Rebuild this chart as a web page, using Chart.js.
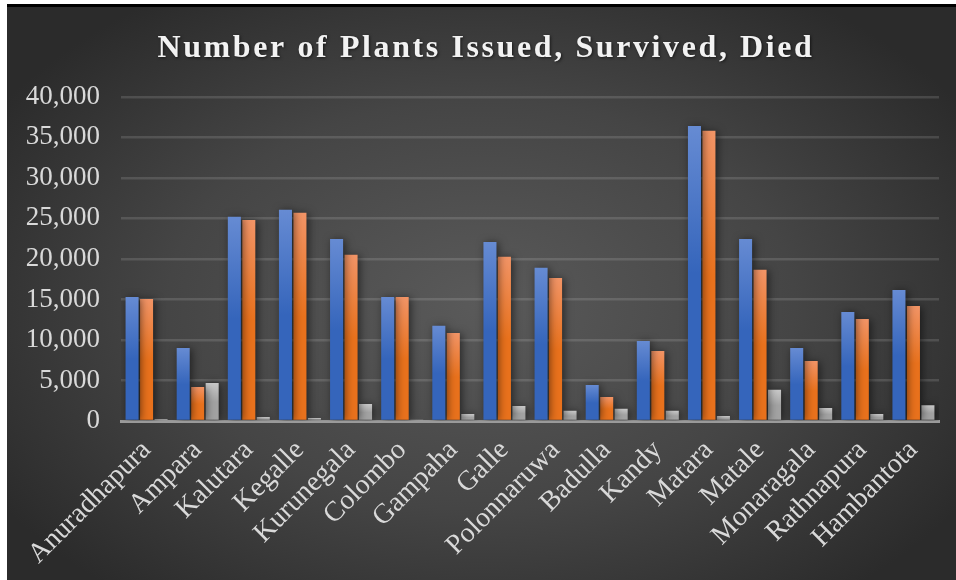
<!DOCTYPE html>
<html>
<head>
<meta charset="utf-8">
<script src="https://cdn.jsdelivr.net/npm/chart.js@4"></script>
<style>
  html, body { margin: 0; padding: 0; background: #fff; }
  #wrap {
    position: absolute; left: 7px; top: 4px; width: 949px; height: 573px;
    border-top: 3px solid #000;
    background: radial-gradient(ellipse 60% 65% at 50% 52%, #5a5a5a 0%, #454545 55%, #2b2b2b 100%);
  }
  canvas { display: block; }
</style>
</head>
<body>
<div id="wrap"><canvas id="chart" width="949" height="573"></canvas></div>
<script>
const districts = ['Anuradhapura', 'Ampara', 'Kalutara', 'Kegalle', 'Kurunegala', 'Colombo',
  'Gampaha', 'Galle', 'Polonnaruwa', 'Badulla', 'Kandy', 'Matara', 'Matale', 'Monaragala',
  'Rathnapura', 'Hambantota']
const issued   = [15300, 9000, 25200, 26050, 22450, 15300, 11750, 22100, 18900, 4450, 9880, 36400, 22450, 9000, 13450, 16150]
const survived = [15050, 4200, 24800, 25700, 20500, 15300, 10850, 20250, 17650, 2950, 8650, 35800, 18650, 7400, 12600, 14200]
const died     = [250, 4700, 500, 380, 2100, 100, 850, 1850, 1250, 1500, 1250, 620, 3850, 1600, 850, 1950]
const yTicks   = { min: 0, max: 40000, step: 5000 }
const titleText = 'Number of Plants Issued, Survived, Died'

// vertical gradient per bar, lighter at the top like the Excel style
function barGradient(top, bottom) {
  return (context) => {
    const chart = context.chart
    const { chartArea } = chart
    if (!chartArea || context.raw == null) return bottom
    const yScale = chart.scales.y
    const y0 = yScale.getPixelForValue(context.raw)
    const y1 = yScale.getPixelForValue(0)
    if (y1 - y0 < 1) return bottom
    const g = chart.ctx.createLinearGradient(0, y0, 0, y1)
    g.addColorStop(0, top)
    g.addColorStop(0.5, bottom)
    g.addColorStop(1, bottom)
    return g
  }
}

const titleFont = { family: 'Liberation Serif', size: 32, weight: 'bold' }

const effects = {
  id: 'effects',
  beforeDatasetsDraw(chart) {
    const ctx = chart.ctx
    ctx.save()
    ctx.shadowColor = 'rgba(0,0,0,0.55)'
    ctx.shadowBlur = 9
    ctx.shadowOffsetX = 2
    ctx.shadowOffsetY = 1
  },
  afterDatasetsDraw(chart) {
    chart.ctx.restore()
  },
  // the built-in title only reserves the space; draw it here with letter spacing
  afterDraw(chart) {
    const box = chart.titleBlock
    if (!box) return
    const ctx = chart.ctx
    ctx.save()
    ctx.font = `${titleFont.weight} ${titleFont.size}px "${titleFont.family}"`
    ctx.letterSpacing = '2.6px'
    ctx.fillStyle = '#f2f2f2'
    ctx.textAlign = 'center'
    ctx.textBaseline = 'alphabetic'
    ctx.shadowColor = 'rgba(0,0,0,0.6)'
    ctx.shadowBlur = 3
    ctx.shadowOffsetX = 1
    ctx.shadowOffsetY = 1
    ctx.fillText(titleText, (box.left + box.right) / 2 + 13, box.top + 50)
    ctx.restore()
  }
}

const tickFont = { family: 'Liberation Serif', size: 27 }

new Chart(document.getElementById('chart'), {
  type: 'bar',
  data: {
    labels: districts,
    datasets: [
      { label: 'Issued', data: issued, backgroundColor: barGradient('#668bd3', '#3565bb') },
      { label: 'Survived', data: survived, backgroundColor: barGradient('#f29466', '#e8711c') },
      { label: 'Died', data: died, backgroundColor: barGradient('#c8c8c8', '#a2a2a2') }
    ]
  },
  options: {
    responsive: false,
    animation: false,
    categoryPercentage: 0.85,
    barPercentage: 0.9,
    layout: { padding: { top: 0, right: 17, bottom: 0, left: 0 } },
    plugins: {
      legend: { display: false },
      tooltip: { enabled: false },
      title: {
        display: true,
        text: titleText,
        color: 'rgba(0,0,0,0)',
        font: { family: 'Liberation Serif', size: 29, weight: 'bold' },
        padding: { top: 23, bottom: 32 }
      }
    },
    scales: {
      x: {
        grid: { display: false, drawTicks: false },
        border: { display: true, color: '#9a9a9a', width: 3 },
        ticks: {
          color: '#d9d9d9', font: { family: 'Liberation Serif', size: 28 },
          minRotation: 45, maxRotation: 45, padding: 13, autoSkip: false
        },
        afterFit(scale) { scale.height = 159 }
      },
      y: {
        min: yTicks.min, max: yTicks.max,
        grid: { color: 'rgba(255,255,255,0.13)', lineWidth: 2.5, drawTicks: false },
        border: { display: false },
        ticks: { stepSize: yTicks.step, color: '#d9d9d9', font: tickFont, padding: 21 },
        afterFit(scale) { scale.width = 114 }
      }
    }
  },
  plugins: [effects]
})
</script>
</body>
</html>
